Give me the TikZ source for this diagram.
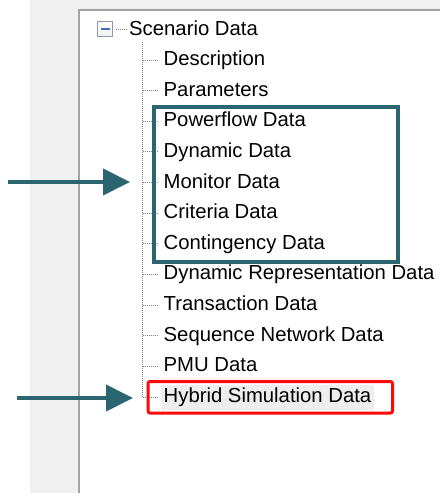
\documentclass[tikz,border=0pt]{standalone}
\usepackage{fontspec}
\setmainfont{Liberation Sans}
\usetikzlibrary{arrows.meta}
\definecolor{panelgray}{HTML}{F0F0F0}
\definecolor{bordergray}{HTML}{A3A3A3}
\definecolor{dotgray}{HTML}{808080}
\definecolor{tealmark}{RGB}{42,101,112}
\definecolor{redmark}{HTML}{FF0A0A}
\definecolor{selgray}{HTML}{EEEEEE}
\definecolor{boxedge}{HTML}{8E9BAA}
\definecolor{minusblue}{HTML}{4A6CC0}
\tikzset{
  treeline/.style={draw=dotgray, line width=1pt, dash pattern=on 1pt off 1pt},
  item/.style={anchor=base west, inner xsep=5pt, inner ysep=0pt,
    font=\fontsize{20.3}{24}\selectfont, text=black},
  pointer/.style={draw=tealmark, line width=4pt,
    -{Triangle[length=27pt,width=26pt]}},
}
\begin{document}
\begin{tikzpicture}[x=1pt,y=-1pt]
  \useasboundingbox (0,0) rectangle (440,493);
  % window background and tree panel
  \fill[white] (0,0) rectangle (440,493);
  \fill[panelgray] (30,0) rectangle (440,493);
  \fill[white] (79.5,10.5) rectangle (440,493);
  \draw[bordergray, line width=2pt] (78.5,493) -- (78.5,9.5) -- (440,9.5);

  % collapse box of the root item
  \node[draw=boxedge, line width=1pt, minimum size=15pt, inner sep=0pt,
        top color=white, bottom color=panelgray] (toggle) at (105,29) {};
  \draw[minusblue, line width=2pt] ([xshift=3.5pt]toggle.west) -- ([xshift=-3.5pt]toggle.east);

  % root item
  \node[item, inner xsep=2pt] (root) at (127,35) {Scenario Data};
  \draw[treeline] ([xshift=3pt]toggle.east) -- (root.west |- toggle.east);

  % spine points of the child items
  \foreach \nm [count=\i from 0] in {desc, param, pf, dyn, mon, crit,
      cont, dynrep, trans, seq, pmu, hyb} {
    \pgfmathsetmacro\rowy{60+30.64*\i}
    \coordinate (s-\nm) at (142.5,\rowy);
  }
  % selection highlight behind the last item
  \fill[selgray] (160.5,384.5) rectangle (374,409.5);
  % child items
  \foreach \nm/\txt in {
      desc/Description, param/Parameters, pf/Powerflow Data,
      dyn/Dynamic Data, mon/Monitor Data, crit/Criteria Data,
      cont/Contingency Data, dynrep/Dynamic Representation Data,
      trans/Transaction Data, seq/Sequence Network Data,
      pmu/PMU Data, hyb/Hybrid Simulation Data} {
    \node[item] (\nm) at ([shift={(16,5.5)}]s-\nm) {\txt};
    \draw[treeline] (s-\nm) -- (s-\nm -| \nm.west);
  }
  \coordinate (spinetop) at (142.5,42);
  \draw[treeline] (spinetop) -- (s-hyb);

  % group frame and selection frame
  \coordinate (grpA) at (153.5,107);
  \coordinate (grpB) at (398,262);
  \draw[tealmark, line width=4pt] (grpA) rectangle (grpB);
  \coordinate (selA) at (148,381.5);
  \coordinate (selB) at (392.5,413);
  \draw[redmark, line width=3pt, rounded corners=2pt] (selA) rectangle (selB);

  % pointers
  \coordinate (p1s) at (8,182);
  \coordinate (p1e) at (130,182);
  \draw[pointer] (p1s) -- (p1e);
  \coordinate (p2s) at (17,398);
  \coordinate (p2e) at (133,398);
  \draw[pointer] (p2s) -- (p2e);
\end{tikzpicture}
\end{document}
